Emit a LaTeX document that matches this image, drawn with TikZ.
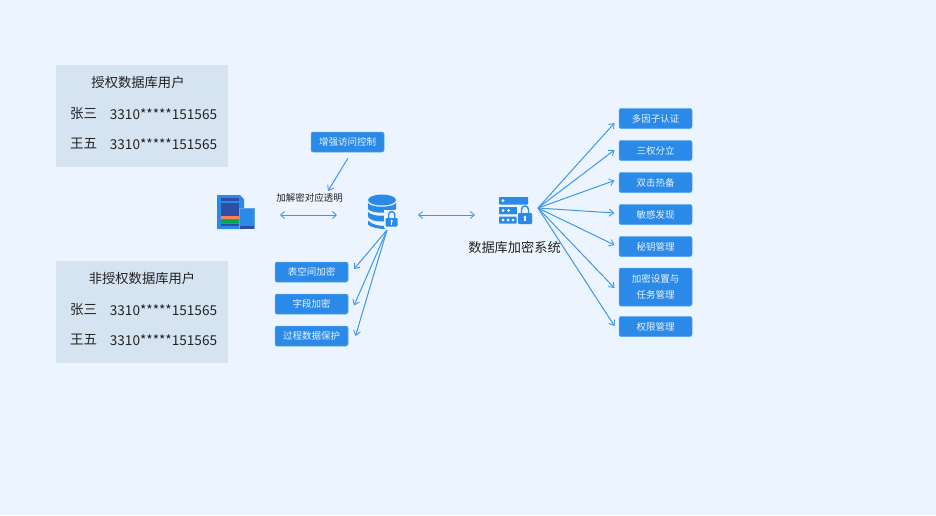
\documentclass[tikz,border=0pt]{standalone}
\usepackage{fontspec}
\setmainfont{Noto Sans CJK SC}
\usetikzlibrary{arrows.meta}
\definecolor{bgc}{HTML}{ECF5FF}
\definecolor{panelc}{HTML}{D6E3F1}
\definecolor{btn}{HTML}{2B8AE8}
\definecolor{btnl}{HTML}{5AA6EE}
\definecolor{ln}{HTML}{3F96EA}
\definecolor{ink}{HTML}{222222}
\definecolor{navy}{HTML}{2F4FA5}
\tikzset{
  x=1pt,y=-1pt,
  tag/.style={fill=btn,draw=btnl,line width=.5pt,rounded corners=2pt,minimum width=73pt,minimum height=20pt,inner sep=0pt,text=white!90!btn,font=\fontsize{9.5}{16}\selectfont,align=center},
  panel/.style={fill=panelc,draw=none,minimum width=172pt,minimum height=102pt,inner sep=0pt},
  ptext/.style={text=ink,inner sep=0pt,font=\fontsize{13.5}{15}\selectfont},
  numtext/.style={text=ink,inner sep=0pt,font=\fontsize{13.6}{15}\selectfont},
  ptitle/.style={text=ink,inner sep=0pt,font=\fontsize{13.3}{15}\selectfont},
  captext/.style={text=ink,inner sep=0pt},
  arr/.style={draw=ln,line width=1pt,-{Straight Barb[length=4.5pt,width=7pt,line width=.9pt]}},
  darr/.style={draw=ln,line width=1pt,{Straight Barb[length=4pt,width=7pt,line width=.9pt]}-{Straight Barb[length=4pt,width=7pt,line width=.9pt]}},
}
\begin{document}
\begin{tikzpicture}
\useasboundingbox (0,0) rectangle (936,515);
\fill[bgc] (0,0) rectangle (936,515);
% panels
\node[panel] (p1) at (142,116) {};
\node[ptitle] (p1t) at (138,82) {授权数据库用户};
\node[ptext] (p1a) at (83.5,114) {张三};
\node[numtext] (p1an) at (163.5,114) {3310*****151565};
\node[ptext] (p1b) at (83.5,144) {王五};
\node[numtext] (p1bn) at (163.5,144) {3310*****151565};
\node[panel] (p2) at (142,312) {};
\node[ptitle] (p2t) at (142,278) {非授权数据库用户};
\node[ptext] (p2a) at (83.5,310) {张三};
\node[numtext] (p2an) at (163.5,310) {3310*****151565};
\node[ptext] (p2b) at (83.5,340) {王五};
\node[numtext] (p2bn) at (163.5,340) {3310*****151565};
% app icon
\fill[btn] (217,195) -- (240,195) -- (244,199) -- (244,229) -- (217,229) -- cycle;
\fill[navy] (221,198) rectangle (239,201);
\fill[navy] (221,203) rectangle (239,215.5);
\fill[red!45!orange!70!white] (221,216) rectangle (239,218.5);
\fill[teal!70!green] (221,220) rectangle (239,223);
\fill[navy] (221,223.5) rectangle (239,226);
\fill[btnl] (239.3,207.5) rectangle (254.5,229.3);
\fill[btn] (240,208.5) rectangle (254,226);
\fill[navy] (240,226) rectangle (254,229);
\node[inner sep=0pt] (app) at (235.5,212) {};
% db icon
\node[inner sep=0pt,minimum width=28pt,minimum height=32pt] (db) at (382,211) {};
\fill[btn] (382,200) ellipse [x radius=14, y radius=5.5];
\fill[btn] (368,203) .. controls (372,208) and (392,208) .. (396,203) -- (396,209) .. controls (392,214) and (372,214) .. (368,209) -- cycle;
\fill[btn] (368,212) .. controls (372,217) and (390,217) .. (396,212) -- (396,217) .. controls (390,223) and (372,223) .. (368,217) -- cycle;
\fill[btn] (368,220.5) .. controls (372,225) and (380,226) .. (385,226) -- (385,229) .. controls (378,229) and (370,227) .. (368,224.5) -- cycle;
\fill[bgc] (384,209.5) rectangle (399.5,227.5);
\draw[btn,line width=1.4pt] (388.7,218.5) -- (388.7,214.5) arc[start angle=180,end angle=360,radius=3] -- (394.7,218.5);
\fill[btn,rounded corners=1pt] (385.7,218) rectangle (397.7,226.5);
\fill[white] (391.7,221) circle (1.3);
\fill[white] (391.1,221) rectangle (392.3,224.5);
% server icon
\node[inner sep=0pt,minimum width=33pt,minimum height=28pt] (srv) at (515,210) {};
\fill[btn,rounded corners=.7pt] (499,197) rectangle (528,204.5);
\fill[white] (503,200.7) circle (1.5);
\fill[btn,rounded corners=.7pt] (499,207) rectangle (518,214);
\foreach \x in {503,508.5,514}{\fill[white] (\x,210.5) circle (1.5);}
\fill[btn,rounded corners=.7pt] (499,216.5) rectangle (516.5,223.5);
\foreach \x in {503,508,513}{\fill[white] (\x,220) circle (1.5);}
\fill[bgc] (516.5,204.5) rectangle (533,225);
\fill[btn,rounded corners=.7pt] (499,207) rectangle (516.5,214);
\foreach \x in {503,508.5}{\fill[white] (\x,210.5) circle (1.5);}
\draw[btn,line width=1.4pt] (521.5,214) -- (521.5,209.5) arc[start angle=180,end angle=360,radius=3.5] -- (528.5,214);
\fill[btn,rounded corners=1pt] (518,213) rectangle (532,224);
\fill[white] (525,217) circle (1.4);
\fill[white] (524.4,217) rectangle (525.6,221);
% captions
\node[captext,font=\fontsize{9.5}{12}\selectfont] (cap1) at (309.5,198) {加解密对应透明};
\node[captext,font=\fontsize{13.2}{15}\selectfont] (cap2) at (514.5,247) {数据库加密系统};
% tags
\node[tag] (ctl) at (347.5,142) {增强访问控制};
\node[tag] (l1) at (311.5,272) {表空间加密};
\node[tag] (l2) at (311.5,304) {字段加密};
\node[tag] (l3) at (311.5,336) {过程数据保护};
\node[tag] (r1) at (655.5,118.5) {多因子认证};
\node[tag] (r2) at (655.5,150.5) {三权分立};
\node[tag] (r3) at (655.5,182.5) {双击热备};
\node[tag] (r4) at (655.5,214.5) {敏感发现};
\node[tag] (r5) at (655.5,246.5) {秘钥管理};
\node[tag,minimum height=38pt] (r6) at (655.5,287) {加密设置与\\任务管理};
\node[tag] (r7) at (655.5,326.5) {权限管理};
% connector end points
\coordinate (hub) at (538,208);
\coordinate (dbh) at (387,230);
\coordinate (ctlf) at (348,158);
\coordinate (ctlt) at (328,191);
\coordinate (a1) at (280,215);
\coordinate (a2) at (337,215);
\coordinate (b1) at (418,215);
\coordinate (b2) at (475,215);
\coordinate (t1) at (614.5,123);
\coordinate (t2) at (614.5,150);
\coordinate (t3) at (614.5,180.5);
\coordinate (t4) at (614.5,213);
\coordinate (t5) at (614.5,245);
\coordinate (t6) at (614.5,288);
\coordinate (t7) at (614.5,326);
\coordinate (d1) at (354,269);
\coordinate (d2) at (354,305.5);
\coordinate (d3) at (355.5,336);
% connectors
\draw[arr] (ctlf) -- (ctlt);
\draw[darr] (a1) -- (a2);
\draw[darr] (b1) -- (b2);
\foreach \t in {t1,t2,t3,t4,t5,t6,t7}{\draw[arr] (hub) -- (\t);}
\foreach \t in {d1,d2,d3}{\draw[arr] (dbh) -- (\t);}
\end{tikzpicture}
\end{document}
